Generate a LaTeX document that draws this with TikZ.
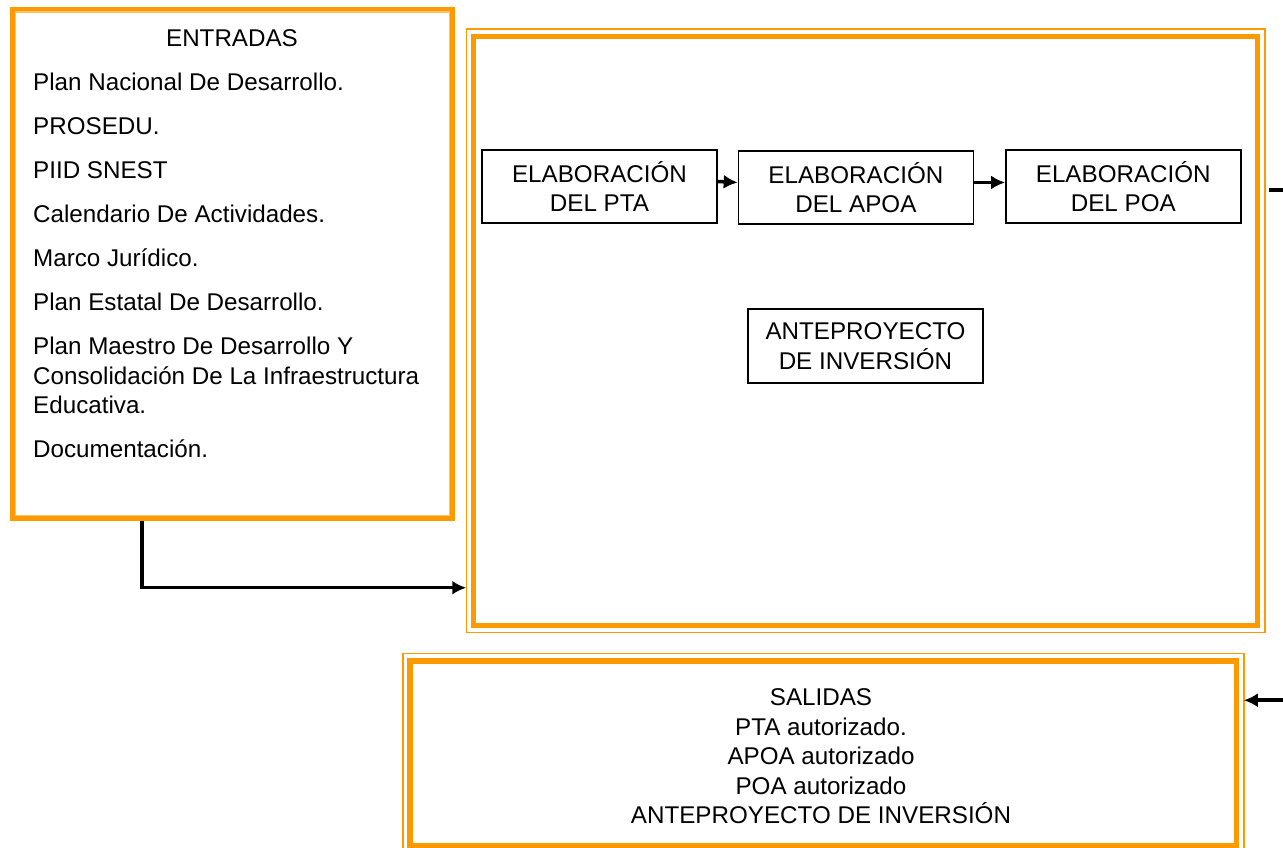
\documentclass[tikz,border=0pt]{standalone}
\usepackage{fontspec}
\setmainfont{Liberation Sans}
\usetikzlibrary{shapes,arrows,arrows.meta,positioning,calc}
\definecolor{naranja}{RGB}{255,153,0}

\begin{document}
\begin{tikzpicture}[x=1pt, y=1pt, node distance=20pt, auto, font=\fontsize{24.2}{29.5}\selectfont]
\tikzstyle{marco} = [rectangle, draw=naranja, line width=5.5pt, inner sep=0pt]
\tikzstyle{filete} = [draw=naranja, line width=1.5pt]
\tikzstyle{block} = [rectangle, draw, line width=1.4pt, minimum width=235pt, minimum height=73pt, align=center, inner sep=0pt]
\tikzstyle{line} = [draw, -{Latex[length=14pt,width=14pt]}, line width=3.5pt]
\useasboundingbox (0,0) rectangle (1283,848);

% marcos
\node [marco, minimum width=439.5pt, minimum height=509pt] (entradas) at (232.25,584) {};
\draw [filete, naranja!60] ([shift={(5.5,-5.5)}]entradas.north west) rectangle ([shift={(-5.5,5.5)}]entradas.south east);
\node [marco, minimum width=784pt, minimum height=589pt] (proceso) at (865.5,517) {};
\draw [filete] ([shift={(-4.5,4.5)}]proceso.north west) rectangle ([shift={(4.5,-4.5)}]proceso.south east);
\node [marco, minimum width=826.5pt, minimum height=184.5pt] (salidas) at (823.25,94.75) {};
\draw [filete] ([shift={(-4.5,4.5)}]salidas.north west) rectangle ([shift={(4.5,-4.5)}]salidas.south east);

% textos
\node [anchor=base, inner sep=0pt] (titent) at (232,801.5) {ENTRADAS};
\node [anchor=north west, inner sep=0pt, align=left] (listent) at (33,775) {Plan Nacional De Desarrollo.\\[14.5pt]
PROSEDU.\\[14.5pt]
PIID SNEST\\[14.5pt]
Calendario De Actividades.\\[14.5pt]
Marco Jurídico.\\[14.5pt]
Plan Estatal De Desarrollo.\\[14.5pt]
Plan Maestro De Desarrollo Y\\
Consolidación De La Infraestructura\\
Educativa.\\[14.5pt]
Documentación.};
\node [inner sep=0pt, align=center] (listsal) at (821,91.5) {SALIDAS\\PTA autorizado.\\APOA autorizado\\POA autorizado\\ANTEPROYECTO DE INVERSIÓN};

% bloques
\node [block] (pta) at (599.5,661.5) {ELABORACIÓN\\DEL PTA};
\node [block, right=20pt of pta, yshift=-1pt] (apoa) {ELABORACIÓN\\DEL APOA};
\node [block, right=31pt of apoa, yshift=1pt] (poa) {ELABORACIÓN\\DEL POA};
\node [block, minimum height=74pt] (ante) at (865.5,502) {ANTEPROYECTO\\DE INVERSIÓN};
\coordinate (salida) at (1269,658);

\path [line] ([yshift=5pt]pta.east) -- ([yshift=5pt]apoa.west);
\path [line] ([yshift=5pt]apoa.east) -- ([yshift=4pt]poa.west);
\path [line] ([xshift=-90.25pt]entradas.south) |- ([shift={(-4.5,40.5)}]proceso.south west);
\path [line] (salida) -- ++(40,0) |- ([shift={(4.5,-42)}]salidas.north east);
\end{tikzpicture}
\end{document}
